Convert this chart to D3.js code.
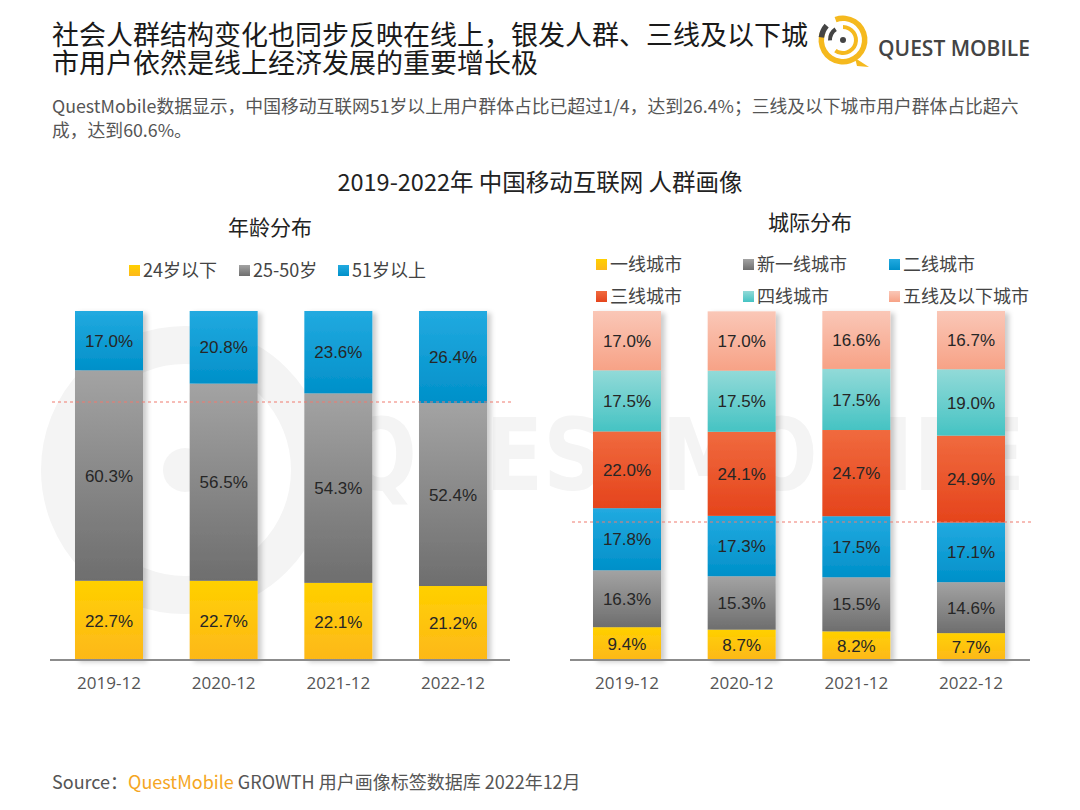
<!DOCTYPE html>
<html><head><meta charset="utf-8">
<script src="https://cdn.jsdelivr.net/npm/d3@7"></script>
<style>
html,body{margin:0;padding:0;background:#fff;}
svg{display:block;}
</style></head>
<body>
<svg id="c" width="1080" height="810"></svg>
<script>
const periods = ["2019-12","2020-12","2021-12","2022-12"];

const ageSeries = ["24岁以下","25-50岁","51岁以上"];
const age24 = [22.7,22.7,22.1,21.2];
const age25_50 = [60.3,56.5,54.3,52.4];
const age51 = [17.0,20.8,23.6,26.4];

const citySeries = ["一线城市","新一线城市","二线城市","三线城市","四线城市","五线及以下城市"];
const tier1 = [9.4,8.7,8.2,7.7];
const tierNew1 = [16.3,15.3,15.5,14.6];
const tier2 = [17.8,17.3,17.5,17.1];
const tier3 = [22.0,24.1,24.7,24.9];
const tier4 = [17.5,17.5,17.5,19.0];
const tier5 = [17.0,17.0,16.6,16.7];

const ageRows = periods.map((p,i)=>({p, v:[age24[i],age25_50[i],age51[i]]}));
const cityRows = periods.map((p,i)=>({p, v:[tier1[i],tierNew1[i],tier2[i],tier3[i],tier4[i],tier5[i]]}));

const svg = d3.select("#c");
const CJK = "'Noto Sans CJK SC','Noto Sans',sans-serif";
const NUM = "'Liberation Sans',Arial,sans-serif";

const defs = svg.append("defs");
const grads = {
  yellow:["#FFD000","#FDB81A"],
  gray:["#A3A3A3","#6E6E6E"],
  blue:["#22AAE0","#0090C9"],
  red:["#F06A3E","#E5441C"],
  teal:["#92DAD8","#45C3C3"],
  pink:["#FAC7B7","#F7A286"]
};
Object.entries(grads).forEach(([k,c])=>{
  const g = defs.append("linearGradient").attr("id","g_"+k).attr("x1",0).attr("y1",0).attr("x2",0).attr("y2",1);
  g.append("stop").attr("offset","0%").attr("stop-color",c[0]);
  g.append("stop").attr("offset","100%").attr("stop-color",c[1]);
});
const f = defs.append("filter").attr("id","sh").attr("x","-20%").attr("y","-5%").attr("width","160%").attr("height","115%");
f.append("feDropShadow").attr("dx",4).attr("dy",2).attr("stdDeviation",2.5).attr("flood-color","#000").attr("flood-opacity",0.2);

// watermark
const wm = svg.append("g");
wm.append("circle").attr("cx",185).attr("cy",470).attr("r",125).attr("fill","none").attr("stroke","#f4f4f4").attr("stroke-width",38);
wm.append("circle").attr("cx",185).attr("cy",470).attr("r",22).attr("fill","#f4f4f4");
wm.append("text").attr("x",345).attr("y",490).attr("font-family","'DejaVu Sans',sans-serif").attr("font-weight","bold")
  .attr("font-size",100).attr("fill","#f4f4f4").attr("textLength",680).attr("lengthAdjust","spacingAndGlyphs").text("QUESTMOBILE");

// Title
svg.append("text").attr("x",52).attr("y",45).attr("font-family",CJK).attr("font-size",27).attr("font-weight",400).attr("fill","#1a1a1a")
  .attr("textLength",756).attr("lengthAdjust","spacingAndGlyphs")
  .text("社会人群结构变化也同步反映在线上，银发人群、三线及以下城");
svg.append("text").attr("x",52).attr("y",73).attr("font-family",CJK).attr("font-size",27).attr("font-weight",400).attr("fill","#1a1a1a")
  .text("市用户依然是线上经济发展的重要增长极");
svg.append("text").attr("x",52).attr("y",113).attr("font-family",CJK).attr("font-size",17.8).attr("fill","#555")
  .text("QuestMobile数据显示，中国移动互联网51岁以上用户群体占比已超过1/4，达到26.4%；三线及以下城市用户群体占比超六");
svg.append("text").attr("x",52).attr("y",137).attr("font-family",CJK).attr("font-size",17.8).attr("fill","#555")
  .text("成，达到60.6%。");

// Logo
const lg = svg.append("g").attr("transform","translate(843,40)");
lg.append("path").attr("d",d3.arc()({innerRadius:19,outerRadius:24.5,startAngle:-0.35,endAngle:Math.PI*1.62}))
  .attr("fill","#F5B91E");
lg.append("path").attr("d","M12,18 L26,27 L14,26 Z").attr("fill","#F5B91E");
lg.append("path").attr("d",d3.arc()({innerRadius:11,outerRadius:15,startAngle:Math.PI*0.0,endAngle:Math.PI*1.2}))
  .attr("fill","#F5B91E");
lg.append("path").attr("d",d3.arc()({innerRadius:19,outerRadius:24.5,startAngle:-1.45,endAngle:-0.85})).attr("fill","#444");
lg.append("path").attr("d",d3.arc()({innerRadius:11,outerRadius:15,startAngle:-1.6,endAngle:-0.6})).attr("fill","#444");
lg.append("circle").attr("cx",0).attr("cy",0).attr("r",3).attr("fill","#444");
svg.append("text").attr("x",878).attr("y",56).attr("font-family","'Open Sans',sans-serif").attr("font-weight",600).attr("font-size",22)
  .attr("fill","#444").attr("textLength",152).attr("lengthAdjust","spacingAndGlyphs").text("QUEST MOBILE");

// Chart title
svg.append("text").attr("x",540).attr("y",191).attr("text-anchor","middle").attr("font-family",CJK).attr("font-size",23.5).attr("fill","#222")
  .text("2019-2022年 中国移动互联网 人群画像");
svg.append("text").attr("x",270).attr("y",235).attr("text-anchor","middle").attr("font-family",CJK).attr("font-size",21).attr("fill","#222").text("年龄分布");
svg.append("text").attr("x",810).attr("y",230).attr("text-anchor","middle").attr("font-family",CJK).attr("font-size",21).attr("fill","#222").text("城际分布");

function drawChart(opts){
  const {rows, colors, x0, x1, b0, b1, dashY} = opts;
  const y = d3.scaleLinear().domain([0,100]).range([660,311]);
  const x = d3.scaleBand().domain(periods).range([b0, b1]).paddingInner(0.407).paddingOuter(0);
  const g = svg.append("g");
  rows.forEach(r=>{
    let acc = 0;
    const bg = g.append("g").attr("filter","url(#sh)");
    const segs = r.v.map(v=>{const s={y0:acc,y1:acc+v,v}; acc+=v; return s;});
    segs.forEach((s,i)=>{
      bg.append("rect").attr("x",x(r.p)).attr("width",x.bandwidth())
        .attr("y",y(s.y1)).attr("height",y(s.y0)-y(s.y1)).attr("fill","url(#g_"+colors[i]+")");
    });
    segs.forEach((s,i)=>{
      g.append("text").attr("x",x(r.p)+x.bandwidth()/2).attr("y",(y(s.y0)+y(s.y1))/2).attr("dy","0.36em")
        .attr("text-anchor","middle").attr("font-family",NUM).attr("font-size",17).attr("fill","#262626")
        .text(s.v.toFixed(1)+"%");
    });
  });
  const ax = svg.append("g").attr("transform","translate(0,660)").call(d3.axisBottom(x).tickSize(0).tickPadding(17));
  ax.select(".domain").attr("d",`M${x0},0H${x1}`).attr("stroke","#8c8c8c").attr("stroke-width",2);
  ax.selectAll("text").attr("font-family","'Open Sans',sans-serif").attr("font-size",17).attr("fill","#555");
  svg.append("line").attr("x1",x0+2).attr("x2",x1+2).attr("y1",dashY).attr("y2",dashY)
    .attr("stroke","#F07A6E").attr("stroke-width",1.2).attr("stroke-dasharray","3,3");
  return x;
}

drawChart({rows:ageRows, colors:["yellow","gray","blue"], x0:50, x1:510, b0:75, b1:487, dashY:402});
drawChart({rows:cityRows, colors:["yellow","gray","blue","red","teal","pink"], x0:570, x1:1030, b0:593, b1:1005, dashY:522});

function legend(items, colors, positions){
  items.forEach((t,i)=>{
    const [lx,ly] = positions[i];
    svg.append("rect").attr("x",lx).attr("y",ly-6).attr("width",11).attr("height",11).attr("fill","url(#g_"+colors[i]+")");
    svg.append("text").attr("x",lx+14).attr("y",ly).attr("dy","0.36em").attr("font-family",CJK).attr("font-size",18).attr("fill","#444").text(t);
  });
}
legend(ageSeries,["yellow","gray","blue"],[[129,271],[239,271],[338,271]]);
legend(citySeries,["yellow","gray","blue","red","teal","pink"],[[596,265],[743,265],[889,265],[596,297],[743,297],[889,297]]);

const src = svg.append("text").attr("x",52).attr("y",789).attr("font-family",CJK).attr("font-size",18).attr("fill","#555");
src.append("tspan").text("Source：");
src.append("tspan").attr("fill","#F5A623").text("QuestMobile");
src.append("tspan").text(" GROWTH 用户画像标签数据库 2022年12月");
</script>
</body></html>
